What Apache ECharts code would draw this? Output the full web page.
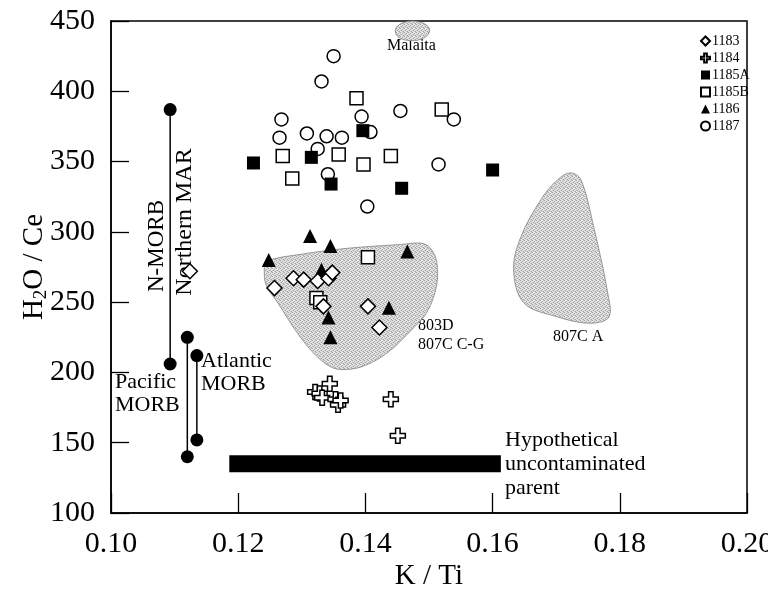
<!DOCTYPE html>
<html>
<head>
<meta charset="utf-8">
<script src="https://cdn.jsdelivr.net/npm/echarts@6/dist/echarts.min.js"></script>
<style>
  html, body { margin: 0; padding: 0; background: #fff; }
  #chart { width: 768px; height: 590px; }
</style>
</head>
<body>
<div id="chart"></div>
<script>
// K/Ti vs H2O/Ce for Leg 192 glasses, with reference fields

const xTicks = [0.10, 0.12, 0.14, 0.16, 0.18, 0.20];
const yTicks = [100, 150, 200, 250, 300, 350, 400, 450];

const site1183 = [[0.1257,260],[0.1287,267],[0.1303,266],[0.1325,265],[0.1342,267],[0.1348,271],[0.1334,247],[0.1404,247],[0.1422,232],[0.1124,272]];
const site1184 = [[0.1344,192],[0.1321,186],[0.1328,185],[0.1332,182],[0.1353,181],[0.1357,177],[0.1361,180],[0.1440,181],[0.1451,155]];
const site1185A = [[0.1224,349],[0.1315,353],[0.1396,372],[0.1346,334],[0.1457,331],[0.1600,344]];
const site1185B = [[0.1386,395],[0.1520,387],[0.1270,354],[0.1358,355],[0.1440,354],[0.1397,348],[0.1285,338],[0.1404,282],[0.1323,253],[0.1329,250]];
const site1186 = [[0.1313,297],[0.1345,290],[0.1248,280],[0.1466,286],[0.1331,273],[0.1437,246],[0.1342,239],[0.1345,225]];
const site1187 = [[0.1350,425],[0.1331,407],[0.1455,386],[0.1394,382],[0.1539,380],[0.1268,380],[0.1265,367],[0.1308,370],[0.1339,368],[0.1363,367],[0.1408,371],[0.1325,359],[0.1341,341],[0.1515,348],[0.1403,318]];

// MORB ranges (K/Ti, low, high)
const nMorbRange = [0.1093, 206, 387];
const pacificRange = [0.1120, 140, 225];
const atlanticRange = [0.1135, 152, 212];

// hypothetical uncontaminated parent (K/Ti from, K/Ti to, H2O/Ce)
const parentSpan = [0.1186, 0.1613, 135];

// outlines of reference fields
const field803D = [[0.1241,273],[0.1244,279],[0.1298,284],[0.1376,288.5],[0.1455,291],[0.1487,292],[0.1502,288.5],[0.1512,279],[0.1512,262],[0.1497,243],[0.1472,230],[0.1436,214.5],[0.1400,205],[0.1368,202],[0.1345,204],[0.1317,214.5],[0.1290,230],[0.1263,249],[0.1244,262]];
const field807CA = [[0.1723,342],[0.1739,337],[0.1759,303.5],[0.1781,256.5],[0.1783,239.5],[0.1754,235],[0.1702,239.5],[0.1649,249.5],[0.1633,273],[0.1644,296],[0.1676,323],[0.1702,337]];
const fieldMalaita = [[0.1447,443.5],[0.1455,448],[0.1474,450],[0.1493,448],[0.1501,443.5],[0.1493,438],[0.1471,436],[0.1452,438.5]];

const FONT = '"Liberation Serif", "Times New Roman", serif';

// fine grey stipple for the fields
function stipple() {
  const c = document.createElement('canvas');
  c.width = 4; c.height = 4;
  const g = c.getContext('2d');
  g.fillStyle = '#e4e4e4'; g.fillRect(0, 0, 4, 4);
  g.fillStyle = '#a2a2a2';
  g.fillRect(0, 0, 1, 1); g.fillRect(2, 1, 1, 1); g.fillRect(1, 2, 1, 1); g.fillRect(3, 3, 1, 1);
  g.fillStyle = '#c6c6c6';
  g.fillRect(2, 3, 1, 1); g.fillRect(0, 2, 1, 1); g.fillRect(3, 0, 1, 1);
  return { image: c, repeat: 'repeat' };
}
const fieldFill = stipple();

function fieldSeries(name, pts) {
  return {
    name: name, type: 'custom', z: 1, silent: true,
    data: [0],
    renderItem: function (params, api) {
      return {
        type: 'polygon',
        shape: { points: pts.map(p => api.coord(p)), smooth: 0.35 },
        style: { fill: fieldFill, stroke: '#777', lineWidth: 0.7 }
      };
    }
  };
}

function rangeSeries(r) {
  return {
    type: 'line', z: 3, silent: true,
    data: [[r[0], r[1]], [r[0], r[2]]],
    symbol: 'circle', symbolSize: 13,
    itemStyle: { color: '#000' },
    lineStyle: { color: '#000', width: 1.5 }
  };
}

const crossPath = 'path://M3.5,0H6.5V3.5H10V6.5H6.5V10H3.5V6.5H0V3.5H3.5Z';

function pointSeries(name, data, symbol, size, filled) {
  return {
    name: name, type: 'scatter', z: 5,
    data: data, symbol: symbol, symbolSize: size,
    itemStyle: {
      color: filled ? '#000' : '#fff',
      borderColor: '#000', borderWidth: filled ? 0 : 1.5, opacity: 1
    }
  };
}

const chart = echarts.init(document.getElementById('chart'), null, { renderer: 'canvas' });

chart.setOption({
  animation: false,
  backgroundColor: '#fff',
  textStyle: { fontFamily: FONT },
  grid: {
    left: 111, right: 21, top: 21, bottom: 77,
    outerBoundsMode: 'none', containLabel: false,
    show: true, borderColor: '#000', borderWidth: 1.5, backgroundColor: 'transparent'
  },
  xAxis: {
    type: 'value', min: xTicks[0], max: xTicks[xTicks.length - 1], interval: 0.02,
    name: 'K / Ti', nameLocation: 'middle', nameGap: 49, nameMoveOverlap: false,
    nameTextStyle: { fontFamily: FONT, fontSize: 29, color: '#000' },
    axisLine: { lineStyle: { color: '#000', width: 1.5 } },
    axisTick: { inside: true, length: 20, lineStyle: { color: '#000', width: 1.3 } },
    axisLabel: { margin: 16, fontFamily: FONT, fontSize: 30, color: '#000', formatter: v => v.toFixed(2) },
    splitLine: { show: false }
  },
  yAxis: {
    type: 'value', min: yTicks[0], max: yTicks[yTicks.length - 1], interval: 50,
    name: '{n|H}{s|2}{n|O / Ce}', nameLocation: 'middle', nameGap: 60, nameMoveOverlap: false,
    nameTextStyle: {
      fontFamily: FONT, fontSize: 29, color: '#000',
      rich: {
        n: { fontFamily: FONT, fontSize: 29, color: '#000' },
        s: { fontFamily: FONT, fontSize: 19, color: '#000', padding: [14, 0, 0, 0] }
      }
    },
    axisLine: { lineStyle: { color: '#000', width: 1.5 } },
    axisTick: { inside: true, length: 18, lineStyle: { color: '#000', width: 1.3 } },
    axisLabel: { margin: 16, fontFamily: FONT, fontSize: 30, color: '#000' },
    splitLine: { show: false }
  },
  legend: {
    orient: 'vertical', left: 695, top: 29,
    itemWidth: 9, itemHeight: 9, itemGap: 3,
    textStyle: { fontFamily: FONT, fontSize: 14, color: '#000', lineHeight: 14, padding: [0, 0, 0, -3] },
    data: ['1183', '1184', '1185A', '1185B', '1186', '1187'],
    selectedMode: false
  },
  series: [
    fieldSeries('803D', field803D),
    fieldSeries('807C A', field807CA),
    fieldSeries('Malaita', fieldMalaita),
    {
      type: 'line', z: 2, silent: true,
      data: [[parentSpan[0], parentSpan[2]], [parentSpan[1], parentSpan[2]]],
      symbol: 'none', lineStyle: { color: '#000', width: 17, cap: 'butt' }
    },
    rangeSeries(nMorbRange),
    rangeSeries(pacificRange),
    rangeSeries(atlanticRange),
    pointSeries('1187', site1187, 'circle', 13, false),
    pointSeries('1185B', site1185B, 'rect', 13, false),
    pointSeries('1185A', site1185A, 'rect', 13, true),
    pointSeries('1186', site1186, 'triangle', 14, true),
    pointSeries('1184', site1184, crossPath, 15, false),
    pointSeries('1183', site1183, 'diamond', 15, false)
  ],
  graphic: [
    { type: 'text', left: 387, top: 38, style: { text: 'Malaita', font: '16px ' + FONT, fill: '#000' } },
    { type: 'text', left: 418, top: 316, style: { text: '803D\n807C C-G', font: '16px ' + FONT, fill: '#000', lineHeight: 19 } },
    { type: 'text', left: 553, top: 329, style: { text: '807C A', font: '16px ' + FONT, fill: '#000' } },
    { type: 'text', x: 157, y: 246, rotation: Math.PI / 2, style: { text: 'N-MORB', font: '23px ' + FONT, fill: '#000', align: 'center', verticalAlign: 'middle' } },
    { type: 'text', x: 185, y: 222, rotation: Math.PI / 2, style: { text: 'Northern MAR', font: '24px ' + FONT, fill: '#000', align: 'center', verticalAlign: 'middle' } },
    { type: 'text', left: 115, top: 371, style: { text: 'Pacific\nMORB', font: '22px ' + FONT, fill: '#000', lineHeight: 23 } },
    { type: 'text', left: 201, top: 350, style: { text: 'Atlantic\nMORB', font: '22px ' + FONT, fill: '#000', lineHeight: 23 } },
    { type: 'text', left: 505, top: 428, style: { text: 'Hypothetical\nuncontaminated\nparent', font: '22px ' + FONT, fill: '#000', lineHeight: 24 } }
  ]
});
</script>
</body>
</html>
